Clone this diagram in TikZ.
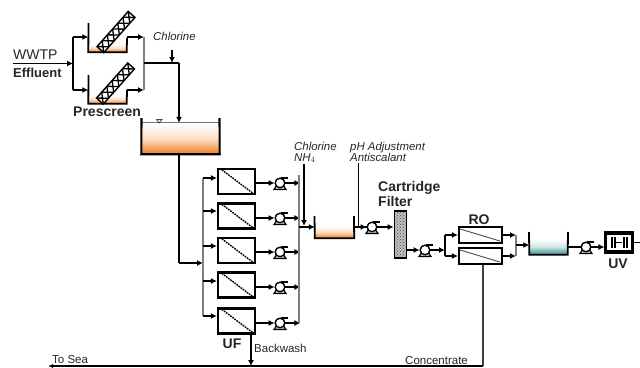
\documentclass[tikz,border=0pt]{standalone}
\usepackage{fontspec}
\setmainfont{Liberation Sans}
\usetikzlibrary{arrows.meta,patterns}
\definecolor{txt}{HTML}{262626}
\definecolor{org}{HTML}{F07F22}
\definecolor{teal2}{HTML}{2F8F8C}
\tikzset{
  pipe/.style={line width=1.4pt,black},
  feed/.style={pipe,-{Latex[length=6pt,width=6pt]}},
  header/.style={line width=1.1pt,black!50},
  wall/.style={line width=1.8pt,black},
  unitbox/.style={draw=black,line width=2.1pt,fill=white,inner sep=0pt,rectangle},
  water/.style={inner sep=0pt,rectangle,top color=white,bottom color=#1,middle color=#1!25},
  lab/.style={text=txt,inner sep=0pt,font=\fontsize{11.5}{12}\selectfont},
  ilab/.style={lab,font=\fontsize{11.4}{12}\selectfont\itshape},
  blab/.style={lab,font=\fontsize{14}{15}\selectfont\bfseries},
  pumpc/.style={circle,draw=black,line width=1.3pt,fill=white,minimum size=9.5pt,inner sep=0pt}
}
\newcommand{\pumpat}[2]{%
  \node[pumpc] (#1) at (#2) {};
  \draw[line width=1.2pt,fill=black!25] ([xshift=-6pt,yshift=-6.5pt]#1.center) -- ([xshift=6pt,yshift=-6.5pt]#1.center) -- ([xshift=3pt,yshift=-2pt]#1.center) -- ([xshift=-3pt,yshift=-2pt]#1.center) -- cycle;
  \node[pumpc] at (#1.center) {};
  \draw[line width=1.8pt] ([xshift=1pt]#1.north) -- ++(7pt,0);
}
\newcommand{\membrane}[1]{%
  \draw[line width=1.4pt,dash pattern=on 1.7pt off .9pt] ([xshift=5pt,yshift=-2pt]#1.north west) -- ([xshift=-2pt,yshift=1pt]#1.south east);
}
\newcommand{\screenat}[1]{%
  \begin{scope}[shift={(#1)},x={(0.664pt,0.747pt)},y={(0.747pt,-0.664pt)}]
    \draw[line width=1.4pt,fill=white] (-23.5,-4.5) -- (23.5,-4.5) -- (23.5,4.5) -- (-23.5,4.5) -- cycle;
    \foreach \k in {-23.5,-15.7,-7.8,0,7.8,15.7}{
      \draw[line width=1.3pt] (\k,-4.5) -- (\k+7.8,4.5) (\k,4.5) -- (\k+7.8,-4.5);
    }
  \end{scope}
}
\begin{document}
\begin{tikzpicture}[x=1pt,y=-1pt]
\useasboundingbox (0,0) rectangle (640,367);
\fill[white] (0,0) rectangle (640,367);

% prescreens
\node[water=org,minimum width=38pt,minimum height=8pt] (ps1) at (107.5,48) {};
\node[water=org,minimum width=38pt,minimum height=8pt] (ps2) at (107.5,99.5) {};
\draw[wall] (88.5,23) -- (ps1.south west) -- (ps1.south east) -- (127,38);
\draw[wall] (88.5,75) -- (ps2.south west) -- (ps2.south east) -- (127,90);
\screenat{116,32}
\screenat{115.5,83.5}

% tanks
\node[water=org,minimum width=78pt,minimum height=31pt] (t1) at (180.5,138.5) {};
\draw[line width=1pt,black!55] (t1.north west) -- (t1.north east);
\draw[wall,line width=2.1pt] (141.5,118) -- (t1.south west) -- (t1.south east) -- (219.5,118);
\draw[line width=.8pt,black!70] (156.5,119.5) -- (162,119.5) -- (159.2,123) -- cycle;

\node[water=org,minimum width=39pt,minimum height=12pt] (t2) at (334.5,232) {};
\draw[wall] (314.5,216) -- (t2.south west) -- (t2.south east) -- (354,216);

\node[water=teal2,minimum width=38pt,minimum height=15pt] (t3) at (548.5,247) {};
\draw[wall] (529,232) -- (t3.south west) -- (t3.south east) -- (568,232);

% UF
\foreach \n/\yy in {uf1/181.5,uf2/216,uf3/250.5,uf4/285,uf5/321}{
  \node[unitbox,minimum width=37pt,minimum height=25pt] (\n) at (236.5,\yy) {};
  \membrane{\n}
}
% pumps
\pumpat{p1}{280,183}
\pumpat{p2}{280,218}
\pumpat{p3}{280,252}
\pumpat{p4}{280,287}
\pumpat{p5}{280,323}
\pumpat{p6}{372,227}
\pumpat{p7}{425,250}
\pumpat{p8}{586,247}

% filter
\node[draw=black,line width=1.8pt,preaction={fill=black!25},pattern=crosshatch dots,pattern color=black!70,minimum width=12pt,minimum height=47pt,inner sep=0pt] (cf) at (400.5,234.5) {};
% RO
\node[unitbox,minimum width=43pt,minimum height=16pt] (ro1) at (480.5,235) {};
\node[unitbox,minimum width=43pt,minimum height=16pt] (ro2) at (480.5,256) {};
\foreach \n in {ro1,ro2}{\draw[line width=.9pt,black!70] ([xshift=2pt,yshift=-3pt]\n.north west) -- ([xshift=-3pt,yshift=3pt]\n.south east);}
% UV
\node[unitbox,minimum width=27pt,minimum height=20pt] (uv) at (619,242.5) {};
\foreach \dx/\m in {-6/uvl,6/uvr}{
  \node[fill=black,minimum width=5pt,minimum height=11pt,inner sep=0pt] (\m) at ([xshift=\dx pt]uv.center) {};
  \draw[white,line width=.8pt] (\m.north) -- (\m.south);
}
\draw[line width=1.1pt] ([xshift=2pt,yshift=-3pt]uv.north west) -- ([xshift=-2pt,yshift=-3pt]uv.north east);
\draw[line width=1.1pt] ([xshift=2pt,yshift=3pt]uv.south west) -- ([xshift=-2pt,yshift=3pt]uv.south east);
\draw[line width=1.1pt] (uvl.east) -- (uvr.west);

% labels
\node[lab,anchor=base west,font=\fontsize{14}{15}\selectfont] (wwtp) at (13,59) {WWTP};
\node[lab,anchor=base west,font=\fontsize{13}{14}\selectfont\bfseries] (eff) at (13,77.5) {Effluent};
\node[blab,anchor=base west] (lps) at (73,116) {Prescreen};
\node[ilab,anchor=base west] (lcl1) at (153,40) {Chlorine};
\node[ilab,anchor=base west] (lcl2) at (294,150) {Chlorine};
\node[ilab,anchor=base west] (lnh) at (294,161) {NH$_4$};
\node[ilab,anchor=base west] (lph) at (350,150) {pH Adjustment};
\node[ilab,anchor=base west] (lan) at (350,161) {Antiscalant};
\node[blab,anchor=base west] (lcart) at (378,191) {Cartridge};
\node[blab,anchor=base west] (lfil) at (378,206) {Filter};
\node[blab,anchor=base] (lro) at (479,224) {RO};
\node[blab,anchor=base] (luv) at (618,268) {UV};
\node[blab,anchor=base] (luf) at (232,348) {UF};
\node[lab,anchor=base west] (lbw) at (254,352) {Backwash};
\node[lab,anchor=base west] (lsea) at (52,363) {To Sea};
\node[lab,anchor=base west] (lcon) at (405,364) {Concentrate};

% junction coordinates
\coordinate (in0) at (13,63.5);
\coordinate (j1) at (73,63.5);
\coordinate (j1a) at (73,37);
\coordinate (j1b) at (73,90);
\coordinate (o1) at (144,37);
\coordinate (o2) at (144,90);
\coordinate (m1) at (144,63);
\coordinate (m2) at (179,63);
\coordinate (cl1) at (172,50);
\coordinate (cl1e) at (172,63);
\coordinate (d1) at (179,263);
\coordinate (h1) at (203,263);
\coordinate (h2) at (299,227);
\coordinate (cl2) at (304,164);
\coordinate (cl2e) at (304,226);
\coordinate (ph) at (358.5,163);
\coordinate (phe) at (358.5,226);
\coordinate (r1) at (445,250);
\coordinate (r2) at (516,245);
\coordinate (sea) at (48,366);
\coordinate (cc) at (483,366);
\coordinate (uvout) at (640,242.5);

% pipes
\draw[feed] (in0) -- (j1);
\draw[pipe] (j1a) -- (j1b);
\draw[feed] (j1a) -- (ps1.west |- j1a);
\draw[feed] (j1b) -- (ps2.west |- j1b);
\draw[feed] (ps1.east |- o1) -- (o1);
\draw[feed] (ps2.east |- o2) -- (o2);
\draw[header] (o1) -- (o2);
\draw[pipe] (m1) -- (m2);
\draw[feed] (cl1) -- (cl1e);
\draw[feed] (m2) -- (m2 |- t1.north);
\draw[pipe] (m2 |- t1.south) -- (d1);
\draw[feed] (d1) -- (h1);
\draw[header] (203,178) -- (203,316);
\foreach \i/\yy in {1/178,2/211,3/246,4/281,5/316}{
  \draw[feed] (203,\yy) -- (uf\i.west |- 0,\yy);
}
\foreach \i in {1,...,5}{
  \draw[feed] (uf\i.east |- p\i) -- (p\i.west);
  \draw[feed] (p\i.east) -- ++(15,0);
}
\draw[header] (299,175) -- (299,323);
\draw[feed] (h2) -- (t2.west |- h2);
\draw[feed] (cl2) -- (cl2e);
\draw[pipe] (ph) -- (phe);
\draw[pipe] (t2.east |- p6) -- (p6.west);
\draw[feed] (phe) ++(0,1) -- (p6.west);
\draw[feed] (p6.east) -- (cf.west |- p6);
\draw[feed] (cf.east |- p7) -- (p7.west);
\draw[feed] (p7.east) -- (r1);
\draw[pipe] (r1 |- ro1) -- (r1 |- ro2);
\draw[feed] (r1 |- ro1) -- (ro1.west);
\draw[feed] (r1 |- ro2) -- (ro2.west);
\draw[feed] (ro1.east) -- (r2 |- ro1);
\draw[feed] (ro2.east) -- (r2 |- ro2);
\draw[header] (r2 |- ro1) -- (r2 |- ro2);
\draw[feed] (r2) -- (t3.west |- r2);
\draw[pipe] (t3.east |- p8) -- (p8.west);
\draw[feed] (p8.east) -- (uv.west |- p8);
\draw[pipe] (uv.east) -- (uvout);
\draw[feed] (251,334) -- (251,366);
\draw[pipe,black!75] (ro2.south -| cc) -- (cc);
\draw[-{Latex[length=5pt,width=4pt]},line width=1.2pt] (cc) -- (sea);
\end{tikzpicture}
\end{document}
